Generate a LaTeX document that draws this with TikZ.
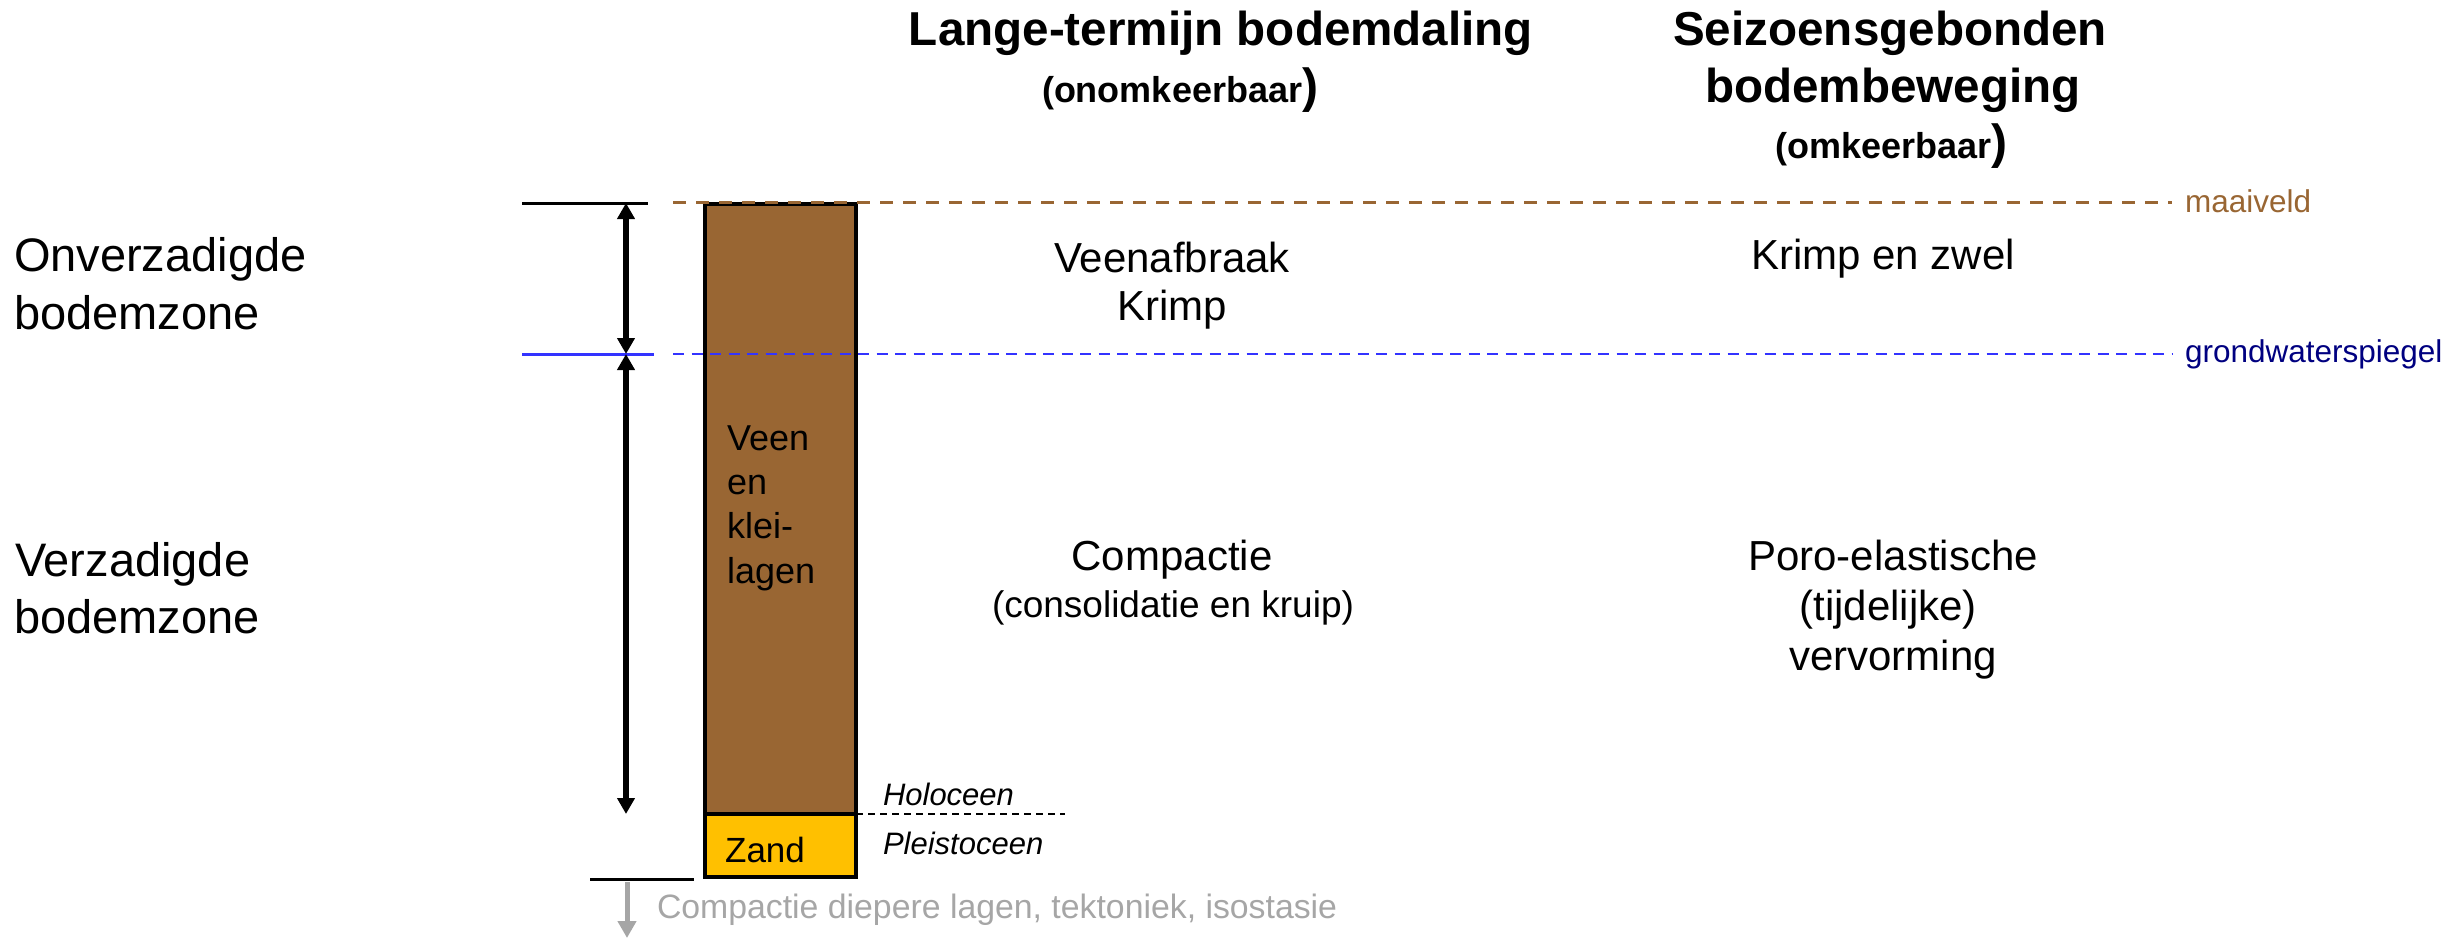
\documentclass[tikz,border=0pt]{standalone}
\usepackage{fontspec}
\setmainfont{Liberation Sans}
\usetikzlibrary{arrows.meta}

\definecolor{soilbrown}{HTML}{996633}
\definecolor{sandyellow}{HTML}{FFC000}
\definecolor{waterblue}{HTML}{3333FF}
\definecolor{watertext}{HTML}{000080}
\definecolor{deepgray}{HTML}{A6A6A6}

\newcommand{\bigparen}{{\fontsize{48}{57}\selectfont)}}

\begin{document}
\begin{tikzpicture}[x=1pt,y=-1pt,
  txt/.style={inner sep=0pt, outer sep=0pt, anchor=base},
  txtw/.style={inner sep=0pt, outer sep=0pt, anchor=base west},
  heading/.style={font=\bfseries\fontsize{47.6}{57}\selectfont},
  subheading/.style={font=\bfseries\fontsize{36}{43}\selectfont},
  body/.style={font=\fontsize{42}{50}\selectfont},
  bodysmall/.style={font=\fontsize{37}{44}\selectfont},
  zone/.style={font=\fontsize{47}{57}\selectfont},
  layertext/.style={font=\fontsize{36}{44}\selectfont},
  epoch/.style={font=\itshape\fontsize{31}{37}\selectfont},
  levellabel/.style={font=\fontsize{31.5}{38}\selectfont},
  layer/.style={draw=black, line width=4pt, inner sep=0pt, outer sep=0pt,
    anchor=north west, minimum width=151pt},
  tick/.style={line width=3pt},
  dimarrow/.style={line width=5.5pt, {Triangle[length=16pt,width=17pt]}-{Triangle[length=16pt,width=17pt]}},
  deeparrow/.style={draw=deepgray, line width=5pt, -{Triangle[length=17pt,width=18pt]}},
  surfaceline/.style={draw=soilbrown, line width=3pt, dash pattern=on 13pt off 10pt},
  waterline/.style={draw=waterblue, line width=2.6pt, dash pattern=on 11pt off 7.5pt},
  epochline/.style={line width=2pt, dash pattern=on 7pt off 5pt}
]
\useasboundingbox (0,0) rectangle (2446,940);

% soil column: peat/clay layers on top of the Pleistocene sand
\node[layer, fill=soilbrown, minimum height=610pt] (veen) at (705,204) {};
\node[layer, fill=sandyellow, minimum height=63pt] (zand) at (705,814) {};

% reference levels
\coordinate (mvStart) at (673,202);
\coordinate (mvEnd) at (2172,202);
\coordinate (gwStart) at (673,354);
\coordinate (gwEnd) at (2172,354);
\draw[surfaceline] (mvStart) -- (mvEnd);
\draw[waterline] (gwStart) -- (gwEnd);
\node[txtw, levellabel, text=soilbrown] (maaiveld) at (2185,212) {maaiveld};
\node[txtw, levellabel, text=watertext] (gws) at (2185,362) {grondwaterspiegel};

% Holocene / Pleistocene boundary
\coordinate (holEnd) at (1065,814);
\draw[epochline] (zand.north east) -- (holEnd);
\node[txtw, epoch] (holoceen) at (883,805) {Holoceen};
\node[txtw, epoch] (pleistoceen) at (883,854) {Pleistoceen};

% ticks on the zone scale
\coordinate (tickTopL) at (522,203);
\coordinate (tickTopR) at (648,203);
\coordinate (tickGwL) at (522,354);
\coordinate (tickGwR) at (654,354);
\coordinate (tickBaseL) at (590,879);
\coordinate (tickBaseR) at (694,879);
\draw[tick] (tickTopL) -- (tickTopR);
\draw[tick, draw=waterblue] (tickGwL) -- (tickGwR);
\draw[tick] (tickBaseL) -- (tickBaseR);

% zone extents
\coordinate (dimTop) at (626,203);
\coordinate (dimGwl) at (626,354);
\coordinate (dimHol) at (626,814);
\draw[dimarrow] (dimTop) -- (dimGwl);
\draw[dimarrow] (dimGwl) -- (dimHol);

% deeper causes
\coordinate (deepStart) at (627,882);
\coordinate (deepEnd) at (627,938);
\draw[deeparrow] (deepStart) -- (deepEnd);
\node[txtw, text=deepgray, font=\fontsize{33.8}{40}\selectfont] (deep) at (657,918)
  {Compactie diepere lagen, tektoniek, isostasie};

% zone names
\node[txtw, zone] (onv1) at (14,271) {Onverzadigde};
\node[txtw, zone] (onv2) at (14,329) {bodemzone};
\node[txtw, zone] (ver1) at (15,576) {Verzadigde};
\node[txtw, zone] (ver2) at (14,633) {bodemzone};

% layer texts
\node[txtw, layertext] (lay1) at (727,450) {Veen};
\node[txtw, layertext] (lay2) at (727,494) {en};
\node[txtw, layertext] (lay3) at (727,538) {klei-};
\node[txtw, layertext] (lay4) at (727,583) {lagen};
\node[txt, font=\fontsize{35}{42}\selectfont] (zandtxt) at (765,862) {Zand};

% column headings
\node[txt, heading] (ltHead) at (1221,45) {Lange-termijn bodemdaling};
\node[txtw, subheading] (ltSub) at (1042,102) {(onomkeerbaar\bigparen};
\node[txt, heading] (szHead1) at (1890,45) {Seizoensgebonden};
\node[txt, heading] (szHead2) at (1893,102) {bodembeweging};
\node[txtw, subheading] (szSub) at (1775,158) {(omkeerbaar\bigparen};

% processes: long-term
\node[txt, body] (lt1) at (1172,272) {Veenafbraak};
\node[txt, body] (lt2) at (1172,320) {Krimp};
\node[txt, body] (lt3) at (1172,570) {Compactie};
\node[txt, bodysmall] (lt4) at (1173,617) {(consolidatie en kruip)};

% processes: seasonal
\node[txt, body] (sz1) at (1883,269) {Krimp en zwel};
\node[txt, body] (sz2) at (1893,570) {Poro-elastische};
\node[txt, body] (sz3) at (1888,620) {(tijdelijke)};
\node[txt, body] (sz4) at (1893,670) {vervorming};
\end{tikzpicture}
\end{document}
